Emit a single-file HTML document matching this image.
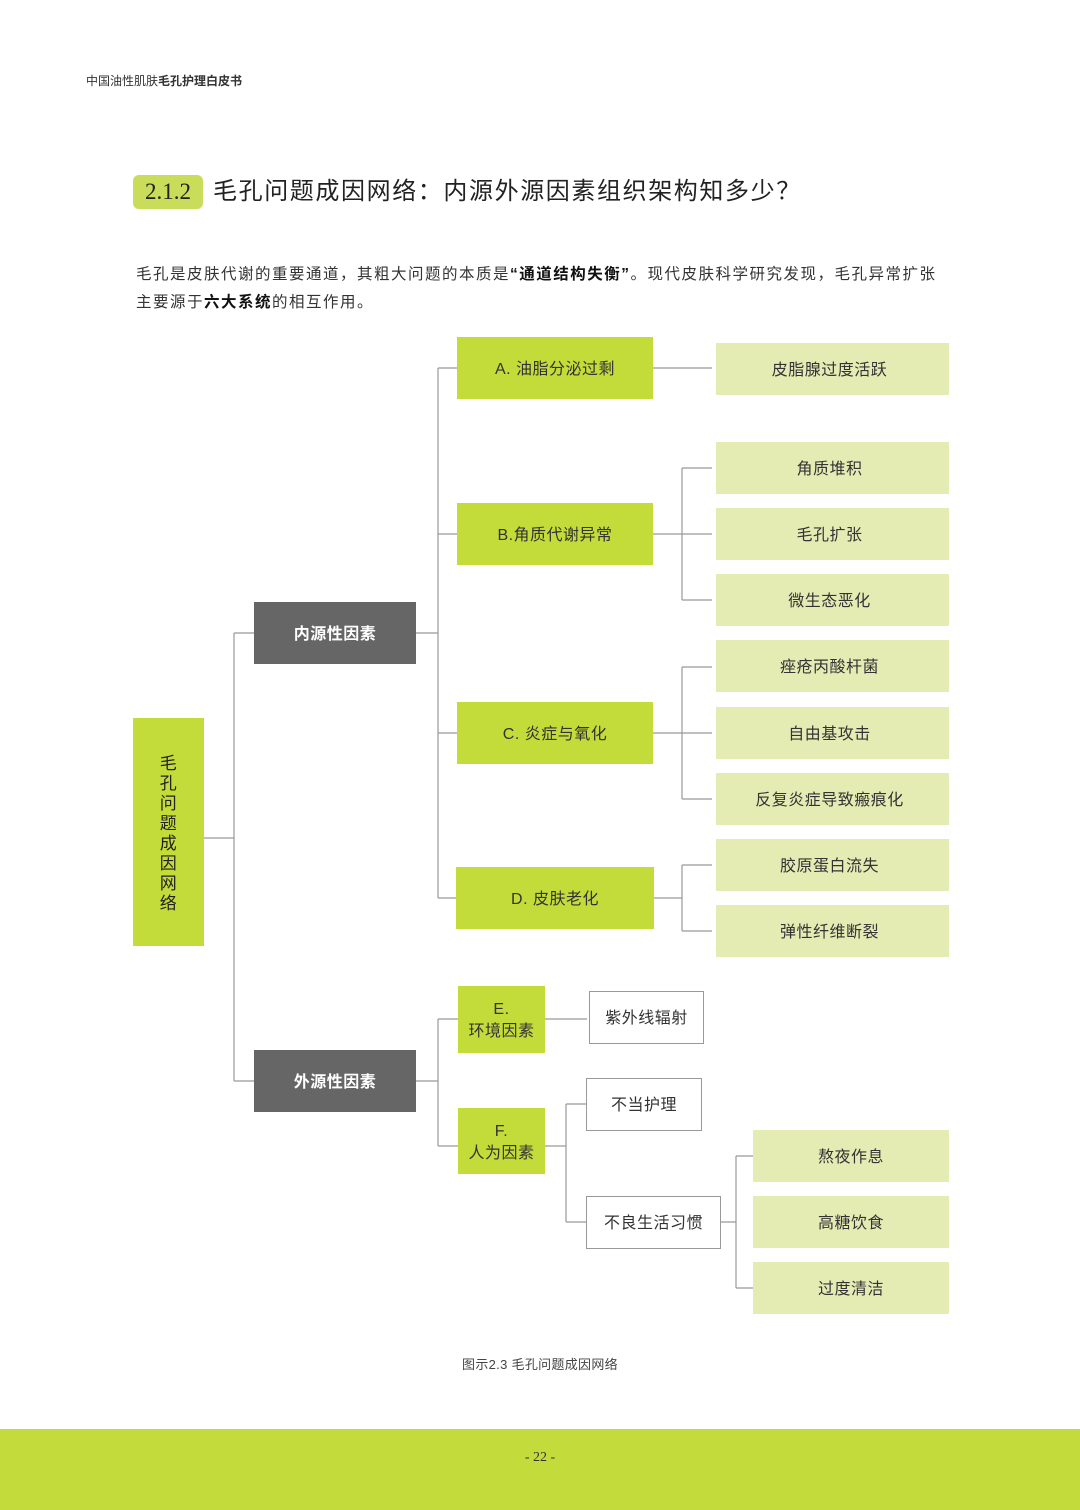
<!DOCTYPE html>
<html><head><meta charset="utf-8"><style>
*{margin:0;padding:0;box-sizing:border-box}
body{width:1080px;height:1510px;position:relative;background:#fff;font-family:"Liberation Sans","Noto Sans CJK SC",sans-serif;color:#222;overflow:hidden}
.a{position:absolute}
.b{position:absolute;display:flex;align-items:center;justify-content:center;text-align:center;font-size:16px;color:#333;line-height:22px;padding-top:3px;letter-spacing:0.5px}
.g{background:#c4dc3a}
.l{background:#e4ecb4}
.d{background:#666;color:#fff;font-weight:bold}
.w{background:#fff;border:1px solid #999}
</style></head><body>
<div class="a" style="left:86px;top:72px;font-size:12px;color:#333">中国油性肌肤<b>毛孔护理白皮书</b></div>
<div class="a" style="left:133px;top:175px;width:70px;height:34px;background:#c9dd5a;border-radius:6px;font-family:'Liberation Serif',serif;font-size:23px;line-height:34px;text-align:center;color:#222">2.1.2</div>
<div class="a" style="left:213px;top:175px;font-size:24px;line-height:34px;color:#222;letter-spacing:1.6px">毛孔问题成因网络：内源外源因素组织架构知多少？</div>
<div class="a" style="left:136px;top:261px;font-size:15.5px;line-height:28px;color:#333;width:900px;letter-spacing:1.5px">毛孔是皮肤代谢的重要通道，其粗大问题的本质是<b style="color:#111">“通道结构失衡”</b>。现代皮肤科学研究发现，毛孔异常扩张<br>主要源于<b style="color:#111">六大系统</b>的相互作用。</div>

<svg class="a" style="left:0;top:0" width="1080" height="1510">
<g stroke="#999" stroke-width="1.2" fill="none">
<path d="M204 838H234M234 633V1081M234 633H254M234 1081H254"/>
<path d="M416 633H438M438 368V898M438 368H457M438 534H457M438 733H457M438 898H456"/>
<path d="M653 368H712"/>
<path d="M653 534H712M682 468V600M682 468H712M682 600H712"/>
<path d="M653 733H712M682 667V799M682 667H712M682 799H712"/>
<path d="M654 898H682M682 865V931M682 865H712M682 931H712"/>
<path d="M416 1081H438M438 1019V1146M438 1019H458M438 1146H458"/>
<path d="M545 1019H587"/>
<path d="M545 1146H566M566 1104V1222M566 1104H586M566 1222H586"/>
<path d="M721 1222H736M736 1156V1288M736 1156H753M736 1288H753"/>
</g></svg>

<div class="b g" style="left:133px;top:718px;width:71px;height:228px;font-size:17px;line-height:20px;flex-direction:column;color:#222">毛<br>孔<br>问<br>题<br>成<br>因<br>网<br>络</div>
<div class="b d" style="left:254px;top:602px;width:162px;height:62px">内源性因素</div>
<div class="b d" style="left:254px;top:1050px;width:162px;height:62px">外源性因素</div>

<div class="b g" style="left:457px;top:337px;width:196px;height:62px">A. 油脂分泌过剩</div>
<div class="b g" style="left:457px;top:503px;width:196px;height:62px">B.角质代谢异常</div>
<div class="b g" style="left:457px;top:702px;width:196px;height:62px">C. 炎症与氧化</div>
<div class="b g" style="left:456px;top:867px;width:198px;height:62px">D. 皮肤老化</div>

<div class="b l" style="left:716px;top:343px;width:233px;height:52px;padding-right:6px">皮脂腺过度活跃</div>
<div class="b l" style="left:716px;top:442px;width:233px;height:52px;padding-right:6px">角质堆积</div>
<div class="b l" style="left:716px;top:508px;width:233px;height:52px;padding-right:6px">毛孔扩张</div>
<div class="b l" style="left:716px;top:574px;width:233px;height:52px;padding-right:6px">微生态恶化</div>
<div class="b l" style="left:716px;top:640px;width:233px;height:52px;padding-right:6px">痤疮丙酸杆菌</div>
<div class="b l" style="left:716px;top:707px;width:233px;height:52px;padding-right:6px">自由基攻击</div>
<div class="b l" style="left:716px;top:773px;width:233px;height:52px;padding-right:6px">反复炎症导致瘢痕化</div>
<div class="b l" style="left:716px;top:839px;width:233px;height:52px;padding-right:6px">胶原蛋白流失</div>
<div class="b l" style="left:716px;top:905px;width:233px;height:52px;padding-right:6px">弹性纤维断裂</div>

<div class="b g" style="left:458px;top:986px;width:87px;height:67px">E.<br>环境因素</div>
<div class="b g" style="left:458px;top:1108px;width:87px;height:66px">F.<br>人为因素</div>
<div class="b w" style="left:589px;top:991px;width:115px;height:53px">紫外线辐射</div>
<div class="b w" style="left:586px;top:1078px;width:116px;height:53px">不当护理</div>
<div class="b w" style="left:586px;top:1196px;width:135px;height:53px">不良生活习惯</div>
<div class="b l" style="left:753px;top:1130px;width:196px;height:52px">熬夜作息</div>
<div class="b l" style="left:753px;top:1196px;width:196px;height:52px">高糖饮食</div>
<div class="b l" style="left:753px;top:1262px;width:196px;height:52px">过度清洁</div>

<div class="a" style="left:0;top:1354px;width:1080px;text-align:center;font-size:13px;color:#444;letter-spacing:0.3px">图示2.3 毛孔问题成因网络</div>
<div class="a" style="left:0;top:1429px;width:1080px;height:81px;background:#c3dc3b"></div>
<div class="a" style="left:0;top:1450px;width:1080px;text-align:center;font-family:'Liberation Serif',serif;font-size:14px;color:#333">- 22 -</div>
</body></html>
